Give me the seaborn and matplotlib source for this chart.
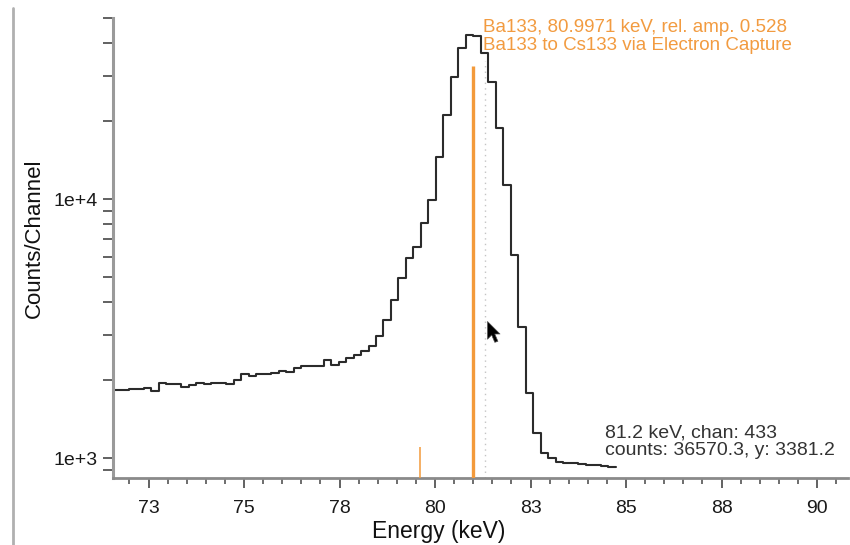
import numpy as np
import pandas as pd
import matplotlib
matplotlib.use("Agg")
import matplotlib.pyplot as plt
import seaborn as sns
from matplotlib.ticker import FixedLocator, MultipleLocator, LogLocator, NullFormatter, FixedFormatter
from matplotlib.path import Path
from matplotlib.lines import Line2D

# ---------------- data ----------------
bin_start_kev = 71.584
bin_width_kev = 0.1963
counts = [
    1835, 1835, 1850, 1850, 1867, 1825,
    1953, 1935, 1935, 1890, 1919, 1958, 1935, 1948, 1958, 1932,
    2006, 2110, 2085, 2110, 2110, 2128, 2172, 2158, 2225, 2278, 2278, 2278,
    2396, 2292, 2354, 2440, 2505, 2590, 2712, 2966,
    3420, 4086, 4968, 5934, 6542, 8098, 9938, 14570, 21160, 29670, 38390,
    43090, 42700, 36570, 28350, 18830, 11340, 6094, 3213, 1787, 1252, 1048, 1003,
    967, 959, 959, 950, 942, 942, 933, 925,
]
line_energies = [79.6142, 80.9971]
line_tops = [1106, 32700]
xtick_values = [72.5, 75, 77.5, 80, 82.5, 85, 87.5, 90]
xtick_labels = ["73", "75", "78", "80", "83", "85", "88", "90"]
ytick_values = [1e3, 1e4]
ytick_labels = ["1e+3", "1e+4"]
cursor_bin = 49
cursor_kev = 81.2
cursor_chan = 433
cursor_counts = 36570.3
cursor_y = 3381.2
pointer_kev = 81.35
line_label = "Ba133, 80.9971 keV, rel. amp. 0.528\nBa133 to Cs133 via Electron Capture"
xlim = (71.57, 90.81)
ylim = (840, 50000)

# ---------------- style ----------------
sns.set_style("ticks")
plt.rcParams["font.family"] = ["Liberation Sans", "DejaVu Sans"]

W, H = 850, 545
fig = plt.figure(figsize=(W / 100, H / 100), dpi=100)
ax = fig.add_axes([113 / W, 1 - 478 / H, (848 - 113) / W, (478 - 18) / H])

edges = bin_start_kev + bin_width_kev * np.arange(len(counts) + 1)
step_df = pd.DataFrame({"energy": edges, "counts": counts + [counts[-1]]})

sns.lineplot(data=step_df, x="energy", y="counts", drawstyle="steps-post",
             estimator=None, color="#2b2b2b", linewidth=1.5, ax=ax)
ax.set_yscale("log")

# cursor dotted marker at channel centre
chan_centre = (edges[cursor_bin] + edges[cursor_bin + 1]) / 2
ax.vlines(chan_centre, ylim[0], counts[cursor_bin] * 0.93,
          colors="#c4c4c4", linestyles=(0, (1, 3)), linewidth=1.0, zorder=1)

# gamma lines
orange = "#f39a3b"
ax.vlines(line_energies[0], ylim[0], line_tops[0], colors=orange, linewidth=1.1, zorder=3)
ax.vlines(line_energies[1], ylim[0], line_tops[1], colors=orange, linewidth=2.4, zorder=3)

# mouse pointer
pointer = Path([(0, 0), (0, -17), (4, -13), (7, -20), (10, -19), (7, -12), (12, -12), (0, 0)],
               [Path.MOVETO] + [Path.LINETO] * 6 + [Path.CLOSEPOLY])
ax.plot([pointer_kev], [cursor_y], marker=pointer, markersize=30, color="black",
        markeredgecolor="#555555", markeredgewidth=0.5, linestyle="none", zorder=5)

ax.set_xlim(*xlim)
ax.set_ylim(*ylim)

ax.xaxis.set_major_locator(FixedLocator(xtick_values))
ax.xaxis.set_major_formatter(FixedFormatter(xtick_labels))
ax.xaxis.set_minor_locator(MultipleLocator(0.5))
ax.yaxis.set_major_locator(FixedLocator(ytick_values))
ax.yaxis.set_major_formatter(FixedFormatter(ytick_labels))
ax.yaxis.set_minor_locator(LogLocator(base=10, subs=np.arange(2, 10)))
ax.yaxis.set_minor_formatter(NullFormatter())

ax.tick_params(axis="both", which="major", labelsize=14, labelcolor="#1a1a1a",
               color="#555555", width=1.3, length=7)
ax.tick_params(axis="y", which="major", pad=4)
ax.tick_params(axis="x", which="major", pad=9)
ax.tick_params(axis="y", which="minor", color="#555555", width=1.3, length=7)
ax.tick_params(axis="x", which="minor", color="#555555", width=1.2, length=4)

for s in ("top", "right"):
    ax.spines[s].set_visible(False)
ax.spines["left"].set_color("#9a9a9a")
ax.spines["left"].set_linewidth(2.2)
ax.spines["bottom"].set_color("#8a8a8a")
ax.spines["bottom"].set_linewidth(2.0)

ax.set_xlabel("Energy (keV)", fontsize=16.5, color="#111111", labelpad=2)
ax.set_ylabel("Counts/Channel", fontsize=16, color="#111111", labelpad=6)
ax.xaxis.label.set_x((439 - 113) / 735)
ax.yaxis.label.set_y((478 - 238) / 460)

# annotations
fig.text(483 / W, 1 - 19 / H, line_label, color="#f29b40", fontsize=13.5,
         va="top", ha="left", linespacing=1.05)
fig.text(605 / W, 1 - 442 / H,
         f"{cursor_kev} keV, chan: {cursor_chan}\ncounts: {cursor_counts}, y: {cursor_y}",
         color="#333333", fontsize=14, va="center", ha="left", linespacing=1.05)

# window border at left
fig.add_artist(Line2D([13 / W, 13 / W], [0, 1 - 8 / H], transform=fig.transFigure,
                      color="#b0b0b0", linewidth=2))

fig.savefig("out.png", dpi=100)
